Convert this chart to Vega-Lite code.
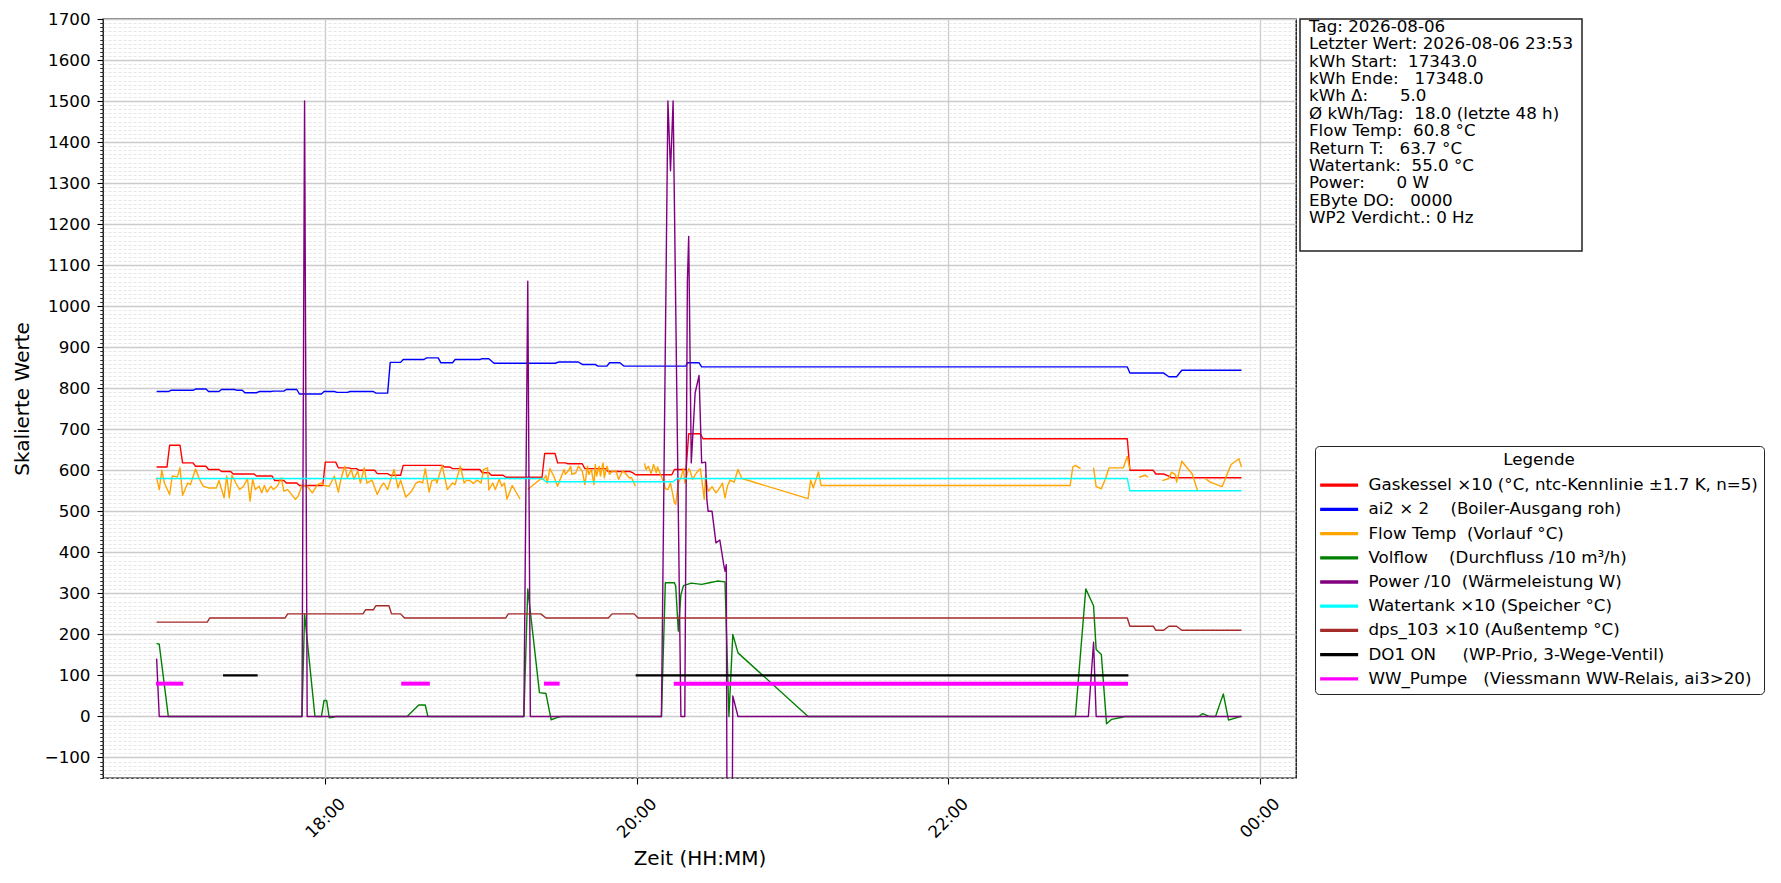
{
  "$schema": "https://vega.github.io/schema/vega-lite/v6.json",
  "background": "white",
  "padding": {"left": 11, "top": 10, "right": 10, "bottom": 8},
  "spacing": 4,
  "bounds": "flush",
  "config": {
    "font": "DejaVu Sans",
    "view": {"stroke": "black", "strokeWidth": 1.3},
    "axis": {"labelFont": "DejaVu Sans", "titleFont": "DejaVu Sans", "labelColor": "black", "titleColor": "black", "titleFontWeight": "normal", "tickColor": "black", "domain": false, "labelFontSize": 16.7, "titleFontSize": 20},
    "legend": {"strokeColor": "#222222", "fillColor": "white", "cornerRadius": 4, "padding": 6}
  },
  "resolve": {"scale": {"color": "independent"}},
  "hconcat": [
    {
      "width": 1193,
      "height": 759,
      "data": {
        "format": {"parse": {"t": "date"}},
        "values": [
          {"s":"G","g":0,"t":"2026-08-06T16:55:00","v":608},{"s":"G","g":0,"t":"2026-08-06T16:59:00","v":608},{"s":"G","g":0,"t":"2026-08-06T17:00:00","v":661},{"s":"G","g":0,"t":"2026-08-06T17:04:00","v":661},
          {"s":"G","g":0,"t":"2026-08-06T17:05:00","v":618},{"s":"G","g":0,"t":"2026-08-06T17:09:00","v":618},{"s":"G","g":0,"t":"2026-08-06T17:10:00","v":610},{"s":"G","g":0,"t":"2026-08-06T17:14:00","v":610},
          {"s":"G","g":0,"t":"2026-08-06T17:15:00","v":602},{"s":"G","g":0,"t":"2026-08-06T17:19:00","v":602},{"s":"G","g":0,"t":"2026-08-06T17:20:00","v":597},{"s":"G","g":0,"t":"2026-08-06T17:23:30","v":597},
          {"s":"G","g":0,"t":"2026-08-06T17:24:30","v":591},{"s":"G","g":0,"t":"2026-08-06T17:32:30","v":591},{"s":"G","g":0,"t":"2026-08-06T17:33:30","v":586},{"s":"G","g":0,"t":"2026-08-06T17:39:30","v":586},
          {"s":"G","g":0,"t":"2026-08-06T17:40:30","v":575},{"s":"G","g":0,"t":"2026-08-06T17:44:00","v":575},{"s":"G","g":0,"t":"2026-08-06T17:45:00","v":569},{"s":"G","g":0,"t":"2026-08-06T17:49:00","v":569},
          {"s":"G","g":0,"t":"2026-08-06T17:50:00","v":563},{"s":"G","g":0,"t":"2026-08-06T17:59:00","v":563},{"s":"G","g":0,"t":"2026-08-06T18:00:00","v":620},{"s":"G","g":0,"t":"2026-08-06T18:04:00","v":620},
          {"s":"G","g":0,"t":"2026-08-06T18:05:00","v":606},{"s":"G","g":0,"t":"2026-08-06T18:09:00","v":606},{"s":"G","g":0,"t":"2026-08-06T18:10:00","v":604},{"s":"G","g":0,"t":"2026-08-06T18:12:00","v":604},
          {"s":"G","g":0,"t":"2026-08-06T18:13:00","v":600},{"s":"G","g":0,"t":"2026-08-06T18:19:00","v":600},{"s":"G","g":0,"t":"2026-08-06T18:20:00","v":592},{"s":"G","g":0,"t":"2026-08-06T18:24:00","v":592},
          {"s":"G","g":0,"t":"2026-08-06T18:25:00","v":588},{"s":"G","g":0,"t":"2026-08-06T18:29:00","v":588},{"s":"G","g":0,"t":"2026-08-06T18:30:00","v":612},{"s":"G","g":0,"t":"2026-08-06T18:45:00","v":612},
          {"s":"G","g":0,"t":"2026-08-06T18:46:00","v":608},{"s":"G","g":0,"t":"2026-08-06T18:48:00","v":608},{"s":"G","g":0,"t":"2026-08-06T18:49:00","v":604},{"s":"G","g":0,"t":"2026-08-06T18:52:00","v":604},
          {"s":"G","g":0,"t":"2026-08-06T18:53:00","v":602},{"s":"G","g":0,"t":"2026-08-06T18:59:30","v":602},{"s":"G","g":0,"t":"2026-08-06T19:00:30","v":594},{"s":"G","g":0,"t":"2026-08-06T19:03:00","v":594},
          {"s":"G","g":0,"t":"2026-08-06T19:04:00","v":588},{"s":"G","g":0,"t":"2026-08-06T19:08:30","v":588},{"s":"G","g":0,"t":"2026-08-06T19:09:30","v":583},{"s":"G","g":0,"t":"2026-08-06T19:23:30","v":583},
          {"s":"G","g":0,"t":"2026-08-06T19:24:30","v":641},{"s":"G","g":0,"t":"2026-08-06T19:28:30","v":641},{"s":"G","g":0,"t":"2026-08-06T19:29:30","v":618},{"s":"G","g":0,"t":"2026-08-06T19:32:30","v":618},
          {"s":"G","g":0,"t":"2026-08-06T19:33:30","v":616},{"s":"G","g":0,"t":"2026-08-06T19:39:00","v":616},{"s":"G","g":0,"t":"2026-08-06T19:40:00","v":604},{"s":"G","g":0,"t":"2026-08-06T19:48:00","v":604},
          {"s":"G","g":0,"t":"2026-08-06T19:49:00","v":597},{"s":"G","g":0,"t":"2026-08-06T19:57:30","v":597},{"s":"G","g":0,"t":"2026-08-06T19:58:30","v":594},{"s":"G","g":0,"t":"2026-08-06T19:59:30","v":589},
          {"s":"G","g":0,"t":"2026-08-06T20:13:30","v":589},{"s":"G","g":0,"t":"2026-08-06T20:14:30","v":602},{"s":"G","g":0,"t":"2026-08-06T20:19:00","v":602},{"s":"G","g":0,"t":"2026-08-06T20:20:00","v":689},
          {"s":"G","g":0,"t":"2026-08-06T20:24:30","v":689},{"s":"G","g":0,"t":"2026-08-06T20:25:30","v":677},{"s":"G","g":0,"t":"2026-08-06T23:09:00","v":677},{"s":"G","g":0,"t":"2026-08-06T23:10:00","v":600},
          {"s":"G","g":0,"t":"2026-08-06T23:19:00","v":600},{"s":"G","g":0,"t":"2026-08-06T23:20:00","v":591},{"s":"G","g":0,"t":"2026-08-06T23:23:00","v":591},{"s":"G","g":0,"t":"2026-08-06T23:25:00","v":586},
          {"s":"G","g":0,"t":"2026-08-06T23:26:00","v":582},{"s":"G","g":0,"t":"2026-08-06T23:53:00","v":582},

          {"s":"A","g":0,"t":"2026-08-06T16:55:00","v":792},{"s":"A","g":0,"t":"2026-08-06T16:59:30","v":792},{"s":"A","g":0,"t":"2026-08-06T17:00:30","v":795},{"s":"A","g":0,"t":"2026-08-06T17:09:00","v":795},
          {"s":"A","g":0,"t":"2026-08-06T17:10:00","v":798},{"s":"A","g":0,"t":"2026-08-06T17:14:00","v":798},{"s":"A","g":0,"t":"2026-08-06T17:15:00","v":792},{"s":"A","g":0,"t":"2026-08-06T17:19:00","v":792},
          {"s":"A","g":0,"t":"2026-08-06T17:20:00","v":797},{"s":"A","g":0,"t":"2026-08-06T17:25:00","v":797},{"s":"A","g":0,"t":"2026-08-06T17:26:00","v":795},{"s":"A","g":0,"t":"2026-08-06T17:28:00","v":795},
          {"s":"A","g":0,"t":"2026-08-06T17:29:00","v":789},{"s":"A","g":0,"t":"2026-08-06T17:33:30","v":789},{"s":"A","g":0,"t":"2026-08-06T17:34:30","v":792},{"s":"A","g":0,"t":"2026-08-06T17:39:00","v":792},
          {"s":"A","g":0,"t":"2026-08-06T17:40:00","v":793},{"s":"A","g":0,"t":"2026-08-06T17:44:00","v":793},{"s":"A","g":0,"t":"2026-08-06T17:45:00","v":797},{"s":"A","g":0,"t":"2026-08-06T17:49:00","v":797},
          {"s":"A","g":0,"t":"2026-08-06T17:50:00","v":786},{"s":"A","g":0,"t":"2026-08-06T17:58:30","v":786},{"s":"A","g":0,"t":"2026-08-06T17:59:30","v":792},{"s":"A","g":0,"t":"2026-08-06T18:03:30","v":792},
          {"s":"A","g":0,"t":"2026-08-06T18:04:30","v":790},{"s":"A","g":0,"t":"2026-08-06T18:08:30","v":790},{"s":"A","g":0,"t":"2026-08-06T18:09:30","v":792},{"s":"A","g":0,"t":"2026-08-06T18:18:30","v":792},
          {"s":"A","g":0,"t":"2026-08-06T18:19:30","v":788},{"s":"A","g":0,"t":"2026-08-06T18:24:00","v":788},{"s":"A","g":0,"t":"2026-08-06T18:25:00","v":863},{"s":"A","g":0,"t":"2026-08-06T18:29:00","v":863},
          {"s":"A","g":0,"t":"2026-08-06T18:30:00","v":870},{"s":"A","g":0,"t":"2026-08-06T18:38:00","v":870},{"s":"A","g":0,"t":"2026-08-06T18:39:00","v":874},{"s":"A","g":0,"t":"2026-08-06T18:43:30","v":874},
          {"s":"A","g":0,"t":"2026-08-06T18:44:30","v":862},{"s":"A","g":0,"t":"2026-08-06T18:49:00","v":862},{"s":"A","g":0,"t":"2026-08-06T18:50:00","v":870},{"s":"A","g":0,"t":"2026-08-06T18:59:30","v":870},
          {"s":"A","g":0,"t":"2026-08-06T19:00:30","v":872},{"s":"A","g":0,"t":"2026-08-06T19:03:00","v":872},{"s":"A","g":0,"t":"2026-08-06T19:05:00","v":861},{"s":"A","g":0,"t":"2026-08-06T19:28:30","v":861},
          {"s":"A","g":0,"t":"2026-08-06T19:30:00","v":864},{"s":"A","g":0,"t":"2026-08-06T19:37:30","v":864},{"s":"A","g":0,"t":"2026-08-06T19:39:00","v":858},{"s":"A","g":0,"t":"2026-08-06T19:44:00","v":858},
          {"s":"A","g":0,"t":"2026-08-06T19:45:00","v":854},{"s":"A","g":0,"t":"2026-08-06T19:48:30","v":854},{"s":"A","g":0,"t":"2026-08-06T19:49:30","v":862},{"s":"A","g":0,"t":"2026-08-06T19:53:30","v":862},
          {"s":"A","g":0,"t":"2026-08-06T19:55:00","v":854},{"s":"A","g":0,"t":"2026-08-06T20:19:00","v":854},{"s":"A","g":0,"t":"2026-08-06T20:19:30","v":862},{"s":"A","g":0,"t":"2026-08-06T20:24:00","v":862},
          {"s":"A","g":0,"t":"2026-08-06T20:25:00","v":852},{"s":"A","g":0,"t":"2026-08-06T23:09:00","v":852},{"s":"A","g":0,"t":"2026-08-06T23:10:00","v":837},{"s":"A","g":0,"t":"2026-08-06T23:23:00","v":837},
          {"s":"A","g":0,"t":"2026-08-06T23:25:00","v":828},{"s":"A","g":0,"t":"2026-08-06T23:28:00","v":828},{"s":"A","g":0,"t":"2026-08-06T23:30:00","v":844},{"s":"A","g":0,"t":"2026-08-06T23:53:00","v":844},

          {"s":"F","g":0,"t":"2026-08-06T16:55:00","v":582},{"s":"F","g":0,"t":"2026-08-06T16:56:00","v":553},{"s":"F","g":0,"t":"2026-08-06T16:57:00","v":600},{"s":"F","g":0,"t":"2026-08-06T16:58:00","v":569},
          {"s":"F","g":0,"t":"2026-08-06T17:00:00","v":541},{"s":"F","g":0,"t":"2026-08-06T17:01:00","v":586},{"s":"F","g":0,"t":"2026-08-06T17:03:00","v":584},{"s":"F","g":0,"t":"2026-08-06T17:04:00","v":606},
          {"s":"F","g":0,"t":"2026-08-06T17:05:00","v":539},{"s":"F","g":0,"t":"2026-08-06T17:07:00","v":569},{"s":"F","g":0,"t":"2026-08-06T17:08:00","v":565},{"s":"F","g":0,"t":"2026-08-06T17:10:00","v":603},
          {"s":"F","g":0,"t":"2026-08-06T17:11:30","v":578},{"s":"F","g":0,"t":"2026-08-06T17:13:00","v":561},{"s":"F","g":0,"t":"2026-08-06T17:15:00","v":557},{"s":"F","g":0,"t":"2026-08-06T17:18:00","v":557},
          {"s":"F","g":0,"t":"2026-08-06T17:19:00","v":575},{"s":"F","g":0,"t":"2026-08-06T17:21:00","v":533},{"s":"F","g":0,"t":"2026-08-06T17:22:00","v":586},{"s":"F","g":0,"t":"2026-08-06T17:23:00","v":533},
          {"s":"F","g":0,"t":"2026-08-06T17:24:00","v":588},{"s":"F","g":0,"t":"2026-08-06T17:25:30","v":569},{"s":"F","g":0,"t":"2026-08-06T17:27:00","v":553},{"s":"F","g":0,"t":"2026-08-06T17:28:30","v":561},
          {"s":"F","g":0,"t":"2026-08-06T17:30:00","v":580},{"s":"F","g":0,"t":"2026-08-06T17:31:00","v":525},{"s":"F","g":0,"t":"2026-08-06T17:32:00","v":578},{"s":"F","g":0,"t":"2026-08-06T17:33:00","v":553},
          {"s":"F","g":0,"t":"2026-08-06T17:34:30","v":561},{"s":"F","g":0,"t":"2026-08-06T17:35:30","v":545},{"s":"F","g":0,"t":"2026-08-06T17:36:30","v":563},{"s":"F","g":0,"t":"2026-08-06T17:37:30","v":547},
          {"s":"F","g":0,"t":"2026-08-06T17:39:00","v":561},{"s":"F","g":0,"t":"2026-08-06T17:40:00","v":553},{"s":"F","g":0,"t":"2026-08-06T17:41:30","v":561},{"s":"F","g":0,"t":"2026-08-06T17:43:00","v":582},
          {"s":"F","g":0,"t":"2026-08-06T17:44:00","v":549},{"s":"F","g":0,"t":"2026-08-06T17:45:30","v":553},{"s":"F","g":0,"t":"2026-08-06T17:46:30","v":545},{"s":"F","g":0,"t":"2026-08-06T17:48:30","v":529},
          {"s":"F","g":0,"t":"2026-08-06T17:49:30","v":537},{"s":"F","g":0,"t":"2026-08-06T17:51:00","v":563},{"s":"F","g":0,"t":"2026-08-06T17:53:00","v":561},{"s":"F","g":0,"t":"2026-08-06T17:55:00","v":545},
          {"s":"F","g":0,"t":"2026-08-06T17:57:00","v":565},{"s":"F","g":0,"t":"2026-08-06T17:58:30","v":569},{"s":"F","g":0,"t":"2026-08-06T17:59:30","v":563},{"s":"F","g":0,"t":"2026-08-06T18:01:30","v":561},
          {"s":"F","g":0,"t":"2026-08-06T18:03:30","v":586},{"s":"F","g":0,"t":"2026-08-06T18:05:00","v":547},{"s":"F","g":0,"t":"2026-08-06T18:06:00","v":578},{"s":"F","g":0,"t":"2026-08-06T18:07:30","v":610},
          {"s":"F","g":0,"t":"2026-08-06T18:08:30","v":582},{"s":"F","g":0,"t":"2026-08-06T18:10:00","v":602},{"s":"F","g":0,"t":"2026-08-06T18:11:00","v":578},{"s":"F","g":0,"t":"2026-08-06T18:12:30","v":598},
          {"s":"F","g":0,"t":"2026-08-06T18:13:30","v":569},{"s":"F","g":0,"t":"2026-08-06T18:15:00","v":606},{"s":"F","g":0,"t":"2026-08-06T18:16:00","v":569},{"s":"F","g":0,"t":"2026-08-06T18:18:00","v":576},
          {"s":"F","g":0,"t":"2026-08-06T18:20:00","v":541},{"s":"F","g":0,"t":"2026-08-06T18:21:30","v":561},{"s":"F","g":0,"t":"2026-08-06T18:22:30","v":569},{"s":"F","g":0,"t":"2026-08-06T18:24:00","v":553},
          {"s":"F","g":0,"t":"2026-08-06T18:25:00","v":574},{"s":"F","g":0,"t":"2026-08-06T18:26:30","v":602},{"s":"F","g":0,"t":"2026-08-06T18:28:00","v":557},{"s":"F","g":0,"t":"2026-08-06T18:29:00","v":576},
          {"s":"F","g":0,"t":"2026-08-06T18:31:00","v":535},{"s":"F","g":0,"t":"2026-08-06T18:33:00","v":547},{"s":"F","g":0,"t":"2026-08-06T18:35:00","v":569},{"s":"F","g":0,"t":"2026-08-06T18:36:30","v":573},
          {"s":"F","g":0,"t":"2026-08-06T18:37:30","v":569},{"s":"F","g":0,"t":"2026-08-06T18:38:30","v":604},{"s":"F","g":0,"t":"2026-08-06T18:40:00","v":547},{"s":"F","g":0,"t":"2026-08-06T18:41:00","v":574},
          {"s":"F","g":0,"t":"2026-08-06T18:42:30","v":578},{"s":"F","g":0,"t":"2026-08-06T18:43:00","v":569},{"s":"F","g":0,"t":"2026-08-06T18:45:00","v":612},{"s":"F","g":0,"t":"2026-08-06T18:47:00","v":553},
          {"s":"F","g":0,"t":"2026-08-06T18:49:00","v":569},{"s":"F","g":0,"t":"2026-08-06T18:50:00","v":565},{"s":"F","g":0,"t":"2026-08-06T18:52:00","v":610},{"s":"F","g":0,"t":"2026-08-06T18:53:30","v":569},
          {"s":"F","g":0,"t":"2026-08-06T18:54:30","v":576},{"s":"F","g":0,"t":"2026-08-06T18:56:00","v":574},{"s":"F","g":0,"t":"2026-08-06T18:57:00","v":568},{"s":"F","g":0,"t":"2026-08-06T18:58:30","v":576},
          {"s":"F","g":0,"t":"2026-08-06T19:00:00","v":569},{"s":"F","g":0,"t":"2026-08-06T19:01:00","v":602},{"s":"F","g":0,"t":"2026-08-06T19:02:30","v":606},{"s":"F","g":0,"t":"2026-08-06T19:03:00","v":552},
          {"s":"F","g":0,"t":"2026-08-06T19:04:30","v":569},{"s":"F","g":0,"t":"2026-08-06T19:05:30","v":553},{"s":"F","g":0,"t":"2026-08-06T19:07:00","v":578},{"s":"F","g":0,"t":"2026-08-06T19:08:00","v":561},
          {"s":"F","g":0,"t":"2026-08-06T19:09:00","v":569},{"s":"F","g":0,"t":"2026-08-06T19:10:00","v":530},{"s":"F","g":0,"t":"2026-08-06T19:12:00","v":563},{"s":"F","g":0,"t":"2026-08-06T19:15:00","v":530},
          {"s":"F","g":1,"t":"2026-08-06T19:18:00","v":553},{"s":"F","g":1,"t":"2026-08-06T19:21:00","v":569},{"s":"F","g":1,"t":"2026-08-06T19:23:00","v":579},{"s":"F","g":1,"t":"2026-08-06T19:24:00","v":578},
          {"s":"F","g":1,"t":"2026-08-06T19:25:00","v":587},{"s":"F","g":1,"t":"2026-08-06T19:25:30","v":569},{"s":"F","g":1,"t":"2026-08-06T19:26:30","v":604},{"s":"F","g":1,"t":"2026-08-06T19:28:00","v":586},
          {"s":"F","g":1,"t":"2026-08-06T19:29:30","v":561},{"s":"F","g":1,"t":"2026-08-06T19:30:30","v":578},{"s":"F","g":1,"t":"2026-08-06T19:32:00","v":602},{"s":"F","g":1,"t":"2026-08-06T19:32:30","v":590},
          {"s":"F","g":1,"t":"2026-08-06T19:34:00","v":602},{"s":"F","g":1,"t":"2026-08-06T19:34:30","v":610},{"s":"F","g":1,"t":"2026-08-06T19:35:00","v":590},{"s":"F","g":1,"t":"2026-08-06T19:36:30","v":594},
          {"s":"F","g":1,"t":"2026-08-06T19:37:30","v":610},{"s":"F","g":1,"t":"2026-08-06T19:39:00","v":598},{"s":"F","g":1,"t":"2026-08-06T19:40:00","v":565},{"s":"F","g":1,"t":"2026-08-06T19:41:00","v":610},
          {"s":"F","g":1,"t":"2026-08-06T19:41:30","v":590},{"s":"F","g":1,"t":"2026-08-06T19:42:30","v":602},{"s":"F","g":1,"t":"2026-08-06T19:43:30","v":565},{"s":"F","g":1,"t":"2026-08-06T19:44:00","v":614},
          {"s":"F","g":1,"t":"2026-08-06T19:44:30","v":586},{"s":"F","g":1,"t":"2026-08-06T19:45:30","v":610},{"s":"F","g":1,"t":"2026-08-06T19:46:00","v":586},{"s":"F","g":1,"t":"2026-08-06T19:47:00","v":618},
          {"s":"F","g":1,"t":"2026-08-06T19:47:30","v":582},{"s":"F","g":1,"t":"2026-08-06T19:48:30","v":610},{"s":"F","g":1,"t":"2026-08-06T19:49:30","v":590},{"s":"F","g":1,"t":"2026-08-06T19:50:30","v":598},
          {"s":"F","g":1,"t":"2026-08-06T19:52:00","v":598},{"s":"F","g":1,"t":"2026-08-06T19:53:00","v":578},{"s":"F","g":1,"t":"2026-08-06T19:54:30","v":598},{"s":"F","g":1,"t":"2026-08-06T19:55:30","v":594},
          {"s":"F","g":1,"t":"2026-08-06T19:57:00","v":582},{"s":"F","g":1,"t":"2026-08-06T19:58:00","v":582},{"s":"F","g":1,"t":"2026-08-06T19:59:30","v":561},
          {"s":"F","g":2,"t":"2026-08-06T20:03:00","v":617},{"s":"F","g":2,"t":"2026-08-06T20:03:30","v":602},{"s":"F","g":2,"t":"2026-08-06T20:04:30","v":610},{"s":"F","g":2,"t":"2026-08-06T20:05:30","v":592},
          {"s":"F","g":2,"t":"2026-08-06T20:06:30","v":614},{"s":"F","g":2,"t":"2026-08-06T20:07:30","v":594},{"s":"F","g":2,"t":"2026-08-06T20:08:00","v":608},{"s":"F","g":2,"t":"2026-08-06T20:09:00","v":592},
          {"s":"F","g":2,"t":"2026-08-06T20:10:30","v":569},{"s":"F","g":2,"t":"2026-08-06T20:11:00","v":555},{"s":"F","g":2,"t":"2026-08-06T20:12:00","v":553},{"s":"F","g":2,"t":"2026-08-06T20:13:00","v":569},
          {"s":"F","g":2,"t":"2026-08-06T20:14:30","v":521},{"s":"F","g":2,"t":"2026-08-06T20:15:00","v":517},{"s":"F","g":2,"t":"2026-08-06T20:16:00","v":569},{"s":"F","g":2,"t":"2026-08-06T20:17:00","v":582},
          {"s":"F","g":2,"t":"2026-08-06T20:18:00","v":604},{"s":"F","g":2,"t":"2026-08-06T20:18:30","v":569},{"s":"F","g":2,"t":"2026-08-06T20:20:00","v":604},{"s":"F","g":2,"t":"2026-08-06T20:20:30","v":600},
          {"s":"F","g":2,"t":"2026-08-06T20:21:30","v":578},{"s":"F","g":2,"t":"2026-08-06T20:23:00","v":594},{"s":"F","g":2,"t":"2026-08-06T20:24:30","v":604},{"s":"F","g":2,"t":"2026-08-06T20:26:00","v":529},
          {"s":"F","g":2,"t":"2026-08-06T20:26:30","v":587},{"s":"F","g":2,"t":"2026-08-06T20:27:30","v":549},{"s":"F","g":2,"t":"2026-08-06T20:29:00","v":560},{"s":"F","g":2,"t":"2026-08-06T20:30:30","v":545},
          {"s":"F","g":2,"t":"2026-08-06T20:31:30","v":553},{"s":"F","g":2,"t":"2026-08-06T20:33:00","v":569},{"s":"F","g":2,"t":"2026-08-06T20:34:00","v":533},{"s":"F","g":2,"t":"2026-08-06T20:35:00","v":563},
          {"s":"F","g":2,"t":"2026-08-06T20:36:00","v":576},{"s":"F","g":2,"t":"2026-08-06T20:37:30","v":571},{"s":"F","g":2,"t":"2026-08-06T20:39:00","v":602},{"s":"F","g":2,"t":"2026-08-06T20:40:30","v":580},
          {"s":"F","g":2,"t":"2026-08-06T21:06:00","v":531},{"s":"F","g":2,"t":"2026-08-06T21:07:00","v":576},{"s":"F","g":2,"t":"2026-08-06T21:08:00","v":557},{"s":"F","g":2,"t":"2026-08-06T21:10:00","v":596},
          {"s":"F","g":2,"t":"2026-08-06T21:11:00","v":563},{"s":"F","g":2,"t":"2026-08-06T22:47:00","v":563},{"s":"F","g":2,"t":"2026-08-06T22:48:00","v":608},{"s":"F","g":2,"t":"2026-08-06T22:49:00","v":612},
          {"s":"F","g":2,"t":"2026-08-06T22:51:00","v":604},
          {"s":"F","g":3,"t":"2026-08-06T22:56:00","v":606},{"s":"F","g":3,"t":"2026-08-06T22:57:00","v":560},{"s":"F","g":3,"t":"2026-08-06T22:59:00","v":555},{"s":"F","g":3,"t":"2026-08-06T23:00:30","v":578},
          {"s":"F","g":3,"t":"2026-08-06T23:02:00","v":606},{"s":"F","g":3,"t":"2026-08-06T23:07:30","v":606},{"s":"F","g":3,"t":"2026-08-06T23:09:00","v":634},{"s":"F","g":3,"t":"2026-08-06T23:10:00","v":602},
          {"s":"F","g":4,"t":"2026-08-06T23:13:30","v":583},{"s":"F","g":4,"t":"2026-08-06T23:16:00","v":588},{"s":"F","g":4,"t":"2026-08-06T23:17:00","v":583},
          {"s":"F","g":5,"t":"2026-08-06T23:22:30","v":575},{"s":"F","g":5,"t":"2026-08-06T23:25:00","v":580},{"s":"F","g":5,"t":"2026-08-06T23:26:00","v":595},{"s":"F","g":5,"t":"2026-08-06T23:27:30","v":590},
          {"s":"F","g":5,"t":"2026-08-06T23:28:00","v":571},{"s":"F","g":5,"t":"2026-08-06T23:30:00","v":622},{"s":"F","g":5,"t":"2026-08-06T23:34:00","v":591},{"s":"F","g":5,"t":"2026-08-06T23:36:00","v":552},
          {"s":"F","g":6,"t":"2026-08-06T23:39:00","v":580},{"s":"F","g":6,"t":"2026-08-06T23:41:00","v":571},{"s":"F","g":6,"t":"2026-08-06T23:45:30","v":560},{"s":"F","g":6,"t":"2026-08-06T23:49:00","v":614},
          {"s":"F","g":6,"t":"2026-08-06T23:52:00","v":628},{"s":"F","g":6,"t":"2026-08-06T23:53:00","v":608},

          {"s":"V","g":0,"t":"2026-08-06T16:55:00","v":178},{"s":"V","g":0,"t":"2026-08-06T16:56:00","v":176},{"s":"V","g":0,"t":"2026-08-06T16:59:30","v":0},{"s":"V","g":0,"t":"2026-08-06T17:51:00","v":0},
          {"s":"V","g":0,"t":"2026-08-06T17:52:00","v":250},{"s":"V","g":0,"t":"2026-08-06T17:56:00","v":0},{"s":"V","g":0,"t":"2026-08-06T17:58:30","v":0},{"s":"V","g":0,"t":"2026-08-06T17:59:30","v":39},
          {"s":"V","g":0,"t":"2026-08-06T18:00:30","v":39},{"s":"V","g":0,"t":"2026-08-06T18:01:30","v":-3},{"s":"V","g":0,"t":"2026-08-06T18:03:00","v":-2},{"s":"V","g":0,"t":"2026-08-06T18:04:00","v":0},
          {"s":"V","g":0,"t":"2026-08-06T18:31:30","v":0},{"s":"V","g":0,"t":"2026-08-06T18:36:00","v":28},{"s":"V","g":0,"t":"2026-08-06T18:38:30","v":28},{"s":"V","g":0,"t":"2026-08-06T18:39:30","v":0},
          {"s":"V","g":0,"t":"2026-08-06T19:16:30","v":0},{"s":"V","g":0,"t":"2026-08-06T19:18:00","v":311},{"s":"V","g":0,"t":"2026-08-06T19:22:30","v":58},{"s":"V","g":0,"t":"2026-08-06T19:25:00","v":56},
          {"s":"V","g":0,"t":"2026-08-06T19:27:00","v":-8},{"s":"V","g":0,"t":"2026-08-06T19:29:30","v":-2},{"s":"V","g":0,"t":"2026-08-06T19:31:00","v":0},{"s":"V","g":0,"t":"2026-08-06T20:09:30","v":0},
          {"s":"V","g":0,"t":"2026-08-06T20:11:00","v":326},{"s":"V","g":0,"t":"2026-08-06T20:14:30","v":326},{"s":"V","g":0,"t":"2026-08-06T20:15:00","v":318},{"s":"V","g":0,"t":"2026-08-06T20:16:00","v":208},
          {"s":"V","g":0,"t":"2026-08-06T20:17:00","v":297},{"s":"V","g":0,"t":"2026-08-06T20:18:00","v":319},{"s":"V","g":0,"t":"2026-08-06T20:21:00","v":325},{"s":"V","g":0,"t":"2026-08-06T20:25:00","v":322},
          {"s":"V","g":0,"t":"2026-08-06T20:28:00","v":326},{"s":"V","g":0,"t":"2026-08-06T20:31:00","v":330},{"s":"V","g":0,"t":"2026-08-06T20:34:00","v":328},{"s":"V","g":0,"t":"2026-08-06T20:35:30","v":0},
          {"s":"V","g":0,"t":"2026-08-06T20:37:00","v":200},{"s":"V","g":0,"t":"2026-08-06T20:39:00","v":155},{"s":"V","g":0,"t":"2026-08-06T21:06:00","v":0},{"s":"V","g":0,"t":"2026-08-06T22:49:00","v":0},
          {"s":"V","g":0,"t":"2026-08-06T22:53:00","v":311},{"s":"V","g":0,"t":"2026-08-06T22:56:00","v":270},{"s":"V","g":0,"t":"2026-08-06T22:57:00","v":163},{"s":"V","g":0,"t":"2026-08-06T22:59:00","v":151},
          {"s":"V","g":0,"t":"2026-08-06T23:01:00","v":-18},{"s":"V","g":0,"t":"2026-08-06T23:03:00","v":-7},{"s":"V","g":0,"t":"2026-08-06T23:07:00","v":-2},{"s":"V","g":0,"t":"2026-08-06T23:08:00","v":0},
          {"s":"V","g":0,"t":"2026-08-06T23:36:30","v":0},{"s":"V","g":0,"t":"2026-08-06T23:38:00","v":7},{"s":"V","g":0,"t":"2026-08-06T23:40:30","v":0},{"s":"V","g":0,"t":"2026-08-06T23:43:00","v":0},
          {"s":"V","g":0,"t":"2026-08-06T23:46:00","v":55},{"s":"V","g":0,"t":"2026-08-06T23:48:00","v":-9},{"s":"V","g":0,"t":"2026-08-06T23:52:30","v":0},{"s":"V","g":0,"t":"2026-08-06T23:53:00","v":0},

          {"s":"P","g":0,"t":"2026-08-06T16:55:00","v":141},{"s":"P","g":0,"t":"2026-08-06T16:56:00","v":0},{"s":"P","g":0,"t":"2026-08-06T17:51:00","v":0},{"s":"P","g":0,"t":"2026-08-06T17:52:00","v":1500},
          {"s":"P","g":0,"t":"2026-08-06T17:53:00","v":0},{"s":"P","g":0,"t":"2026-08-06T19:16:30","v":0},{"s":"P","g":0,"t":"2026-08-06T19:18:00","v":1061},{"s":"P","g":0,"t":"2026-08-06T19:19:00","v":0},
          {"s":"P","g":0,"t":"2026-08-06T20:09:30","v":0},{"s":"P","g":0,"t":"2026-08-06T20:12:00","v":1500},{"s":"P","g":0,"t":"2026-08-06T20:13:00","v":1330},{"s":"P","g":0,"t":"2026-08-06T20:14:00","v":1500},
          {"s":"P","g":0,"t":"2026-08-06T20:17:00","v":0},{"s":"P","g":0,"t":"2026-08-06T20:18:30","v":0},{"s":"P","g":0,"t":"2026-08-06T20:19:30","v":1061},{"s":"P","g":0,"t":"2026-08-06T20:20:00","v":1170},
          {"s":"P","g":0,"t":"2026-08-06T20:21:00","v":618},{"s":"P","g":0,"t":"2026-08-06T20:22:30","v":789},{"s":"P","g":0,"t":"2026-08-06T20:24:00","v":831},{"s":"P","g":0,"t":"2026-08-06T20:25:00","v":618},
          {"s":"P","g":0,"t":"2026-08-06T20:26:30","v":620},{"s":"P","g":0,"t":"2026-08-06T20:27:00","v":529},{"s":"P","g":0,"t":"2026-08-06T20:27:30","v":500},{"s":"P","g":0,"t":"2026-08-06T20:29:00","v":500},
          {"s":"P","g":0,"t":"2026-08-06T20:30:30","v":423},{"s":"P","g":0,"t":"2026-08-06T20:32:00","v":430},{"s":"P","g":0,"t":"2026-08-06T20:33:30","v":370},{"s":"P","g":0,"t":"2026-08-06T20:34:00","v":354},
          {"s":"P","g":0,"t":"2026-08-06T20:34:30","v":370},{"s":"P","g":0,"t":"2026-08-06T20:35:30","v":-2000},{"s":"P","g":0,"t":"2026-08-06T20:37:00","v":50},{"s":"P","g":0,"t":"2026-08-06T20:39:00","v":0},
          {"s":"P","g":0,"t":"2026-08-06T22:54:00","v":0},{"s":"P","g":0,"t":"2026-08-06T22:56:00","v":181},{"s":"P","g":0,"t":"2026-08-06T22:57:00","v":0},{"s":"P","g":0,"t":"2026-08-06T23:53:00","v":0},

          {"s":"T","g":0,"t":"2026-08-06T16:55:00","v":580},{"s":"T","g":0,"t":"2026-08-06T19:23:30","v":580},{"s":"T","g":0,"t":"2026-08-06T19:25:00","v":572},{"s":"T","g":0,"t":"2026-08-06T20:14:00","v":572},
          {"s":"T","g":0,"t":"2026-08-06T20:15:30","v":580},{"s":"T","g":0,"t":"2026-08-06T23:09:00","v":580},{"s":"T","g":0,"t":"2026-08-06T23:10:00","v":550},{"s":"T","g":0,"t":"2026-08-06T23:53:00","v":550},

          {"s":"D","g":0,"t":"2026-08-06T16:55:00","v":230},{"s":"D","g":0,"t":"2026-08-06T17:14:30","v":230},{"s":"D","g":0,"t":"2026-08-06T17:15:30","v":240},{"s":"D","g":0,"t":"2026-08-06T17:44:30","v":240},
          {"s":"D","g":0,"t":"2026-08-06T17:45:30","v":250},{"s":"D","g":0,"t":"2026-08-06T18:14:30","v":250},{"s":"D","g":0,"t":"2026-08-06T18:15:30","v":260},{"s":"D","g":0,"t":"2026-08-06T18:18:30","v":260},
          {"s":"D","g":0,"t":"2026-08-06T18:19:30","v":270},{"s":"D","g":0,"t":"2026-08-06T18:24:30","v":270},{"s":"D","g":0,"t":"2026-08-06T18:25:30","v":250},{"s":"D","g":0,"t":"2026-08-06T18:29:00","v":250},
          {"s":"D","g":0,"t":"2026-08-06T18:30:30","v":240},{"s":"D","g":0,"t":"2026-08-06T19:09:30","v":240},{"s":"D","g":0,"t":"2026-08-06T19:10:30","v":250},{"s":"D","g":0,"t":"2026-08-06T19:23:00","v":250},
          {"s":"D","g":0,"t":"2026-08-06T19:25:00","v":240},{"s":"D","g":0,"t":"2026-08-06T19:49:00","v":240},{"s":"D","g":0,"t":"2026-08-06T19:50:30","v":250},{"s":"D","g":0,"t":"2026-08-06T19:59:00","v":250},
          {"s":"D","g":0,"t":"2026-08-06T20:00:30","v":240},{"s":"D","g":0,"t":"2026-08-06T23:09:00","v":240},{"s":"D","g":0,"t":"2026-08-06T23:10:00","v":220},{"s":"D","g":0,"t":"2026-08-06T23:19:00","v":220},
          {"s":"D","g":0,"t":"2026-08-06T23:20:00","v":210},{"s":"D","g":0,"t":"2026-08-06T23:23:00","v":210},{"s":"D","g":0,"t":"2026-08-06T23:25:00","v":220},{"s":"D","g":0,"t":"2026-08-06T23:28:00","v":220},
          {"s":"D","g":0,"t":"2026-08-06T23:30:00","v":210},{"s":"D","g":0,"t":"2026-08-06T23:53:00","v":210},

          {"s":"O","g":0,"t":"2026-08-06T17:21:00","v":100},{"s":"O","g":0,"t":"2026-08-06T17:33:30","v":100},
          {"s":"O","g":1,"t":"2026-08-06T20:00:00","v":100},{"s":"O","g":1,"t":"2026-08-06T23:09:00","v":100},

          {"s":"W","g":0,"t":"2026-08-06T16:55:30","v":80},{"s":"W","g":0,"t":"2026-08-06T17:04:30","v":80},
          {"s":"W","g":1,"t":"2026-08-06T18:30:00","v":80},{"s":"W","g":1,"t":"2026-08-06T18:39:30","v":80},
          {"s":"W","g":2,"t":"2026-08-06T19:25:00","v":80},{"s":"W","g":2,"t":"2026-08-06T19:29:30","v":80},
          {"s":"W","g":3,"t":"2026-08-06T20:15:00","v":80},{"s":"W","g":3,"t":"2026-08-06T23:08:30","v":80}
        ]
      },
      "encoding": {
        "x": {
          "field": "t", "type": "temporal",
          "scale": {"domain": [{"year": 2026, "month": 8, "date": 6, "hours": 16, "minutes": 34, "seconds": 20}, {"year": 2026, "month": 8, "date": 7, "hours": 0, "minutes": 14, "seconds": 0}], "nice": false},
          "axis": {
            "format": "%H:%M",
            "values": [{"year": 2026, "month": 8, "date": 6, "hours": 18}, {"year": 2026, "month": 8, "date": 6, "hours": 20}, {"year": 2026, "month": 8, "date": 6, "hours": 22}, {"year": 2026, "month": 8, "date": 7, "hours": 0}],
            "labelAngle": -45, "labelAlign": "center", "labelBaseline": "middle", "labelPadding": 34, "labelFlush": false, "labelOverlap": false,
            "grid": true, "gridColor": "#cbcbcb", "gridWidth": 1.3, "tickSize": 6, "tickWidth": 1.1, "title": "Zeit (HH:MM)", "titlePadding": 7}
        },
        "y": {
          "field": "v", "type": "quantitative",
          "scale": {"domain": [-150, 1700], "nice": false, "zero": false},
          "axis": {
            "values": [-150,-140,-130,-120,-110,-100,-90,-80,-70,-60,-50,-40,-30,-20,-10,0,10,20,30,40,50,60,70,80,90,100,110,120,130,140,150,160,170,180,190,200,210,220,230,240,250,260,270,280,290,300,310,320,330,340,350,360,370,380,390,400,410,420,430,440,450,460,470,480,490,500,510,520,530,540,550,560,570,580,590,600,610,620,630,640,650,660,670,680,690,700,710,720,730,740,750,760,770,780,790,800,810,820,830,840,850,860,870,880,890,900,910,920,930,940,950,960,970,980,990,1000,1010,1020,1030,1040,1050,1060,1070,1080,1090,1100,1110,1120,1130,1140,1150,1160,1170,1180,1190,1200,1210,1220,1230,1240,1250,1260,1270,1280,1290,1300,1310,1320,1330,1340,1350,1360,1370,1380,1390,1400,1410,1420,1430,1440,1450,1460,1470,1480,1490,1500,1510,1520,1530,1540,1550,1560,1570,1580,1590,1600,1610,1620,1630,1640,1650,1660,1670,1680,1690,1700],
            "format": "d",
            "labelOverlap": false, "labelFlush": false,
            "labelExpr": "datum.value % 100 === 0 ? datum.label : ''",
            "grid": true,
            "gridColor": {"condition": {"test": "datum.value % 100 === 0", "value": "#cbcbcb"}, "value": "#e0e0e0"},
            "gridWidth": {"condition": {"test": "datum.value % 100 === 0", "value": 1.3}, "value": 0.8},
            "gridDash": {"condition": {"test": "datum.value % 100 === 0", "value": []}, "value": [3, 2]},
            "tickSize": {"condition": {"test": "datum.value % 100 === 0", "value": 6}, "value": 3.3},
            "tickWidth": {"condition": {"test": "datum.value % 100 === 0", "value": 1.1}, "value": 0.8},
            "labelPadding": 7, "title": "Skalierte Werte", "titlePadding": 12
          }
        },
        "color": {
          "field": "s", "type": "nominal",
          "scale": {"domain": ["G", "A", "F", "V", "P", "T", "D", "O", "W"], "range": ["#ff0000", "#0000ff", "#ffa500", "#008000", "#800080", "#00ffff", "#a52a2a", "#000000", "#ff00ff"]},
          "legend": {
            "title": "Legende", "orient": "none", "legendX": 1212, "legendY": 427, "direction": "vertical",
            "symbolType": "M-1.3,0H2.7", "symbolSize": 361, "symbolStrokeWidth": 3.3,
            "labelFontSize": 16.7, "labelColor": "black", "labelLimit": 700, "labelOffset": 24.5,
            "titleFontSize": 16.7, "titleFontWeight": "normal", "titleColor": "black", "titleAnchor": "middle", "titlePadding": 5,
            "rowPadding": 3.2,
            "labelExpr": "datum.label == 'G' ? 'Gaskessel ×10 (°C, ntc-Kennlinie ±1.7 K, n=5)' : datum.label == 'A' ? 'ai2 × 2 \u00a0\u00a0\u00a0(Boiler-Ausgang roh)' : datum.label == 'F' ? 'Flow Temp \u00a0(Vorlauf °C)' : datum.label == 'V' ? 'Volflow \u00a0\u00a0\u00a0(Durchfluss /10 m³/h)' : datum.label == 'P' ? 'Power /10 \u00a0(Wärmeleistung W)' : datum.label == 'T' ? 'Watertank ×10 (Speicher °C)' : datum.label == 'D' ? 'dps_103 ×10 (Außentemp °C)' : datum.label == 'O' ? 'DO1 ON \u00a0\u00a0\u00a0\u00a0(WP-Prio, 3-Wege-Ventil)' : 'WW_Pumpe \u00a0\u00a0(Viessmann WW-Relais, ai3>20)'"
          }
        },
        "detail": {"field": "g", "type": "nominal"}
      },
      "layer": [
        {
          "transform": [{"filter": "datum.s != 'O' && datum.s != 'W'"}],
          "mark": {"type": "line", "strokeWidth": 1.4, "clip": true, "strokeJoin": "round"}
        },
        {
          "transform": [{"filter": "datum.s == 'O'"}],
          "mark": {"type": "line", "strokeWidth": 2.2, "clip": true, "strokeCap": "square"}
        },
        {
          "transform": [{"filter": "datum.s == 'W'"}],
          "mark": {"type": "line", "strokeWidth": 4, "clip": true, "strokeCap": "square"}
        }
      ]
    },
    {
      "width": 282,
      "height": 232,
      "view": {"stroke": "#222222", "strokeWidth": 1.5},
      "data": {"values": [
        {"i": 0, "txt": "Tag: 2026-08-06"},
        {"i": 1, "txt": "Letzter Wert: 2026-08-06 23:53"},
        {"i": 2, "txt": "kWh Start: \u00a017343.0"},
        {"i": 3, "txt": "kWh Ende: \u00a0\u00a017348.0"},
        {"i": 4, "txt": "kWh Δ: \u00a0\u00a0\u00a0\u00a0\u00a05.0"},
        {"i": 5, "txt": "Ø kWh/Tag: \u00a018.0 (letzte 48 h)"},
        {"i": 6, "txt": "Flow Temp: \u00a060.8 °C"},
        {"i": 7, "txt": "Return T: \u00a0\u00a063.7 °C"},
        {"i": 8, "txt": "Watertank: \u00a055.0 °C"},
        {"i": 9, "txt": "Power: \u00a0\u00a0\u00a0\u00a0\u00a00 W"},
        {"i": 10, "txt": "EByte DO: \u00a0\u00a00000"},
        {"i": 11, "txt": "WP2 Verdicht.: 0 Hz"}
      ]},
      "mark": {"type": "text", "align": "left", "baseline": "middle", "fontSize": 16.7, "font": "DejaVu Sans", "color": "black", "dx": 9},
      "encoding": {
        "y": {"field": "i", "type": "quantitative", "scale": {"domain": [-0.442, 12.876], "reverse": true, "nice": false, "zero": false}, "axis": null},
        "x": {"value": 0},
        "text": {"field": "txt"}
      }
    }
  ]
}
